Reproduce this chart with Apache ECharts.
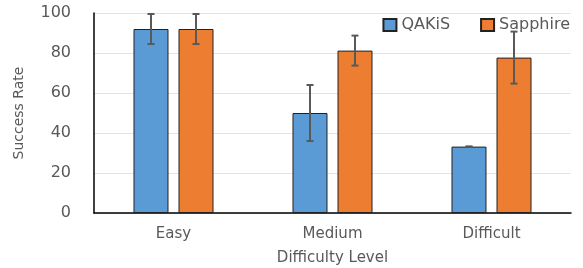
<!DOCTYPE html>
<html>
<head>
<meta charset="utf-8">
<script src="https://cdn.jsdelivr.net/npm/echarts@6/dist/echarts.min.js"></script>
<style>
  html, body { margin: 0; padding: 0; background: #fff; }
  #chart { width: 583px; height: 268px; }
</style>
</head>
<body>
<div id="chart"></div>
<script>
// 数据
const categories = ['Easy', 'Medium', 'Difficult'];
const qakisValues = [92, 50, 33.2];
const qakisErrors = [7.5, 14, 0];
const sapphireValues = [92, 81.2, 77.7];
const sapphireErrors = [7.5, 7.5, 13];
const yTicks = [0, 20, 40, 60, 80, 100];

function initChart() {
    const chartDom = document.getElementById('chart');
    const chart = echarts.init(chartDom);

    const barWidth = 35;
    const barOffset = 22.5;

    function errorSeries(name, values, errors, offset) {
        return {
            name: name + ' error',
            type: 'custom',
            silent: true,
            z: 10,
            data: values.map(function(v, i) { return [i, v - errors[i], v + errors[i]]; }),
            renderItem: function(params, api) {
                const low = api.coord([api.value(0), api.value(1)]);
                const high = api.coord([api.value(0), api.value(2)]);
                const x = low[0] + offset;
                const style = { stroke: '#595959', lineWidth: 2 };
                return {
                    type: 'group',
                    children: [
                        { type: 'line', shape: { x1: x, y1: low[1], x2: x, y2: high[1] }, style: style },
                        { type: 'line', shape: { x1: x - 3.5, y1: low[1], x2: x + 3.5, y2: low[1] }, style: style },
                        { type: 'line', shape: { x1: x - 3.5, y1: high[1], x2: x + 3.5, y2: high[1] }, style: style }
                    ]
                };
            }
        };
    }

    const option = {
        animation: false,
        textStyle: { fontFamily: 'DejaVu Sans' },
        grid: {
            left: 94,
            right: 12,
            top: 13,
            bottom: 55,
            outerBoundsMode: 'none'
        },
        legend: {
            data: ['QAKiS', 'Sapphire'],
            icon: 'rect',
            right: 8,
            top: 12,
            itemWidth: 13,
            itemHeight: 12,
            itemGap: 30,
            textStyle: {
                fontSize: 16,
                color: '#595959'
            }
        },
        xAxis: {
            type: 'category',
            data: categories,
            name: 'Difficulty Level',
            nameLocation: 'middle',
            nameGap: 38,
            nameTextStyle: {
                fontSize: 15,
                color: '#595959'
            },
            axisLine: { lineStyle: { color: '#000', width: 1.5 } },
            axisTick: { show: false },
            axisLabel: {
                fontSize: 15,
                color: '#595959',
                margin: 14
            }
        },
        yAxis: {
            type: 'value',
            min: yTicks[0],
            max: yTicks[yTicks.length - 1],
            interval: 20,
            name: 'Success Rate',
            nameLocation: 'middle',
            nameGap: 68,
            nameTextStyle: {
                fontSize: 14,
                color: '#595959'
            },
            axisLine: { show: true, lineStyle: { color: '#000', width: 1.5 } },
            axisTick: { show: false },
            axisLabel: {
                fontSize: 16,
                color: '#595959',
                margin: 23
            },
            splitLine: { lineStyle: { color: '#e3e3e3', width: 1 } }
        },
        series: [
            {
                name: 'QAKiS',
                type: 'bar',
                data: qakisValues,
                barWidth: barWidth,
                barGap: '28.6%',
                itemStyle: {
                    color: '#5b9bd5',
                    borderColor: '#222',
                    borderWidth: 1
                }
            },
            {
                name: 'Sapphire',
                type: 'bar',
                data: sapphireValues,
                barWidth: barWidth,
                itemStyle: {
                    color: '#ed7d31',
                    borderColor: '#222',
                    borderWidth: 1
                }
            },
            errorSeries('QAKiS', qakisValues, qakisErrors, -barOffset),
            errorSeries('Sapphire', sapphireValues, sapphireErrors, barOffset)
        ]
    };

    chart.setOption(option);
    window.addEventListener('resize', function() { chart.resize(); });
}

initChart();
</script>
</body>
</html>
